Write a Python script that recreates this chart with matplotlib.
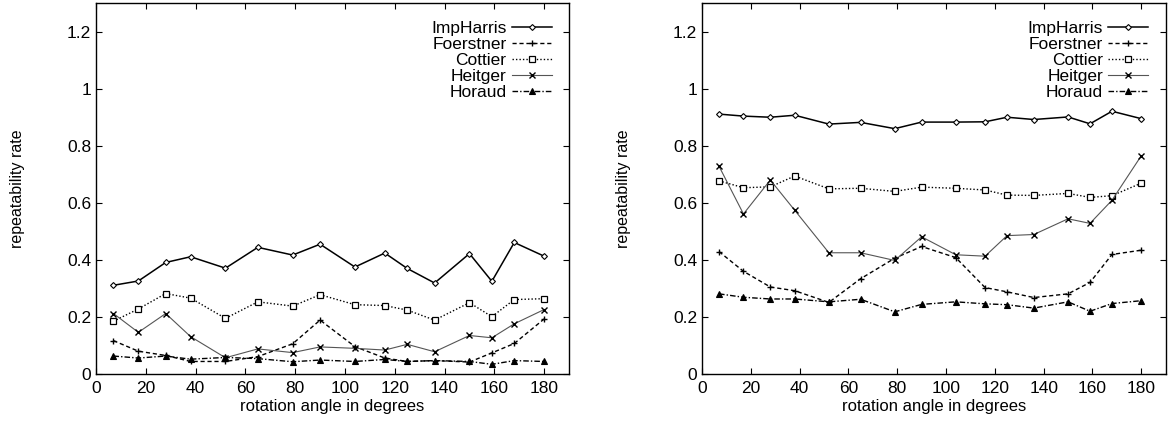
import matplotlib
matplotlib.use("Agg")
import matplotlib.pyplot as plt

plt.rcParams['font.family'] = ['Liberation Sans', 'DejaVu Sans']
plt.rcParams['font.size'] = 12

# Angles de rotation (degrés)
angles = [7, 17, 28, 38, 52, 65, 79, 90, 104, 116, 125, 136, 150, 159, 168, 180]

# Graphique de gauche
gauche_impharris = [0.311, 0.326, 0.391, 0.411, 0.371, 0.444, 0.417, 0.455,
                    0.375, 0.424, 0.370, 0.319, 0.422, 0.325, 0.461, 0.413]
gauche_foerstner = [0.117, 0.080, 0.065, 0.044, 0.044, 0.061, 0.106, 0.189,
                    0.096, 0.056, 0.044, 0.047, 0.042, 0.074, 0.107, 0.193]
gauche_cottier = [0.185, 0.228, 0.282, 0.266, 0.195, 0.253, 0.238, 0.278,
                  0.243, 0.240, 0.224, 0.189, 0.250, 0.201, 0.261, 0.264]
gauche_heitger = [0.212, 0.146, 0.212, 0.131, 0.057, 0.088, 0.075, 0.095,
                  0.090, 0.084, 0.104, 0.078, 0.135, 0.127, 0.176, 0.226]
gauche_horaud = [0.063, 0.056, 0.063, 0.052, 0.058, 0.054, 0.043, 0.049,
                 0.044, 0.051, 0.044, 0.047, 0.044, 0.034, 0.047, 0.044]

# Graphique de droite
droite_impharris = [0.911, 0.904, 0.900, 0.907, 0.876, 0.882, 0.860, 0.883,
                    0.883, 0.884, 0.900, 0.892, 0.901, 0.877, 0.921, 0.895]
droite_foerstner = [0.429, 0.360, 0.305, 0.292, 0.251, 0.334, 0.406, 0.447,
                    0.408, 0.303, 0.288, 0.268, 0.281, 0.321, 0.419, 0.434]
droite_cottier = [0.677, 0.653, 0.656, 0.694, 0.649, 0.651, 0.640, 0.655,
                  0.651, 0.645, 0.627, 0.626, 0.633, 0.619, 0.625, 0.669]
droite_heitger = [0.728, 0.561, 0.680, 0.574, 0.425, 0.425, 0.398, 0.481,
                  0.418, 0.413, 0.485, 0.489, 0.544, 0.528, 0.609, 0.765]
droite_horaud = [0.281, 0.269, 0.263, 0.263, 0.253, 0.262, 0.218, 0.244,
                 0.253, 0.246, 0.243, 0.231, 0.253, 0.220, 0.247, 0.257]

noms = ['ImpHarris', 'Foerstner', 'Cottier', 'Heitger', 'Horaud']
x_ticks = [0, 20, 40, 60, 80, 100, 120, 140, 160, 180]
y_ticks = [0, 0.2, 0.4, 0.6, 0.8, 1.0, 1.2]
y_labels = ['0', '0.2', '0.4', '0.6', '0.8', '1', '1.2']

styles = [
    dict(color='black', lw=1.1, ls='-', marker='D', ms=3, mfc='white', mew=0.8),
    dict(color='black', lw=1.0, ls=(0, (3, 2)), marker='+', ms=5, mew=1.0),
    dict(color='black', lw=1.0, ls=(0, (1, 1.5)), marker='s', ms=4.2, mfc='white', mew=0.9),
    dict(color='#555555', lw=0.8, ls='-', marker='x', ms=4.5, mew=1.0, mec='black'),
    dict(color='black', lw=1.0, ls=(0, (4, 1.5, 1, 1.5)), marker='^', ms=4.2, mew=0.8),
]


def tracer(ax, series):
    for nom, valeurs, st in zip(noms, series, styles):
        ax.plot(angles, valeurs, label=nom, **st)
    ax.set_xlim(0, 190)
    ax.set_ylim(0, 1.3)
    ax.set_xticks(x_ticks)
    ax.set_yticks(y_ticks)
    ax.set_yticklabels(y_labels)
    ax.tick_params(direction='in', top=True, right=True, length=4, width=0.8,
                   labelsize=12.5)
    ax.tick_params(axis='x', pad=5)
    ax.set_xlabel('rotation angle in degrees', fontsize=12, labelpad=2)
    ax.set_ylabel('repeatability rate', fontsize=11.5, labelpad=30)
    for s in ax.spines.values():
        s.set_linewidth(1.0)
    ax.legend(loc='upper right', frameon=False, markerfirst=False,
              handlelength=2.3, labelspacing=0.05, borderaxespad=0.6,
              handletextpad=0.3, fontsize=12.5)


fig = plt.figure(figsize=(11.68, 4.21), dpi=100)
ax1 = fig.add_axes([0.0822, 0.1116, 0.405, 0.881])
ax2 = fig.add_axes([0.601, 0.1116, 0.397, 0.881])

tracer(ax1, [gauche_impharris, gauche_foerstner, gauche_cottier,
             gauche_heitger, gauche_horaud])
tracer(ax2, [droite_impharris, droite_foerstner, droite_cottier,
             droite_heitger, droite_horaud])

fig.savefig('out.png', dpi=100)
